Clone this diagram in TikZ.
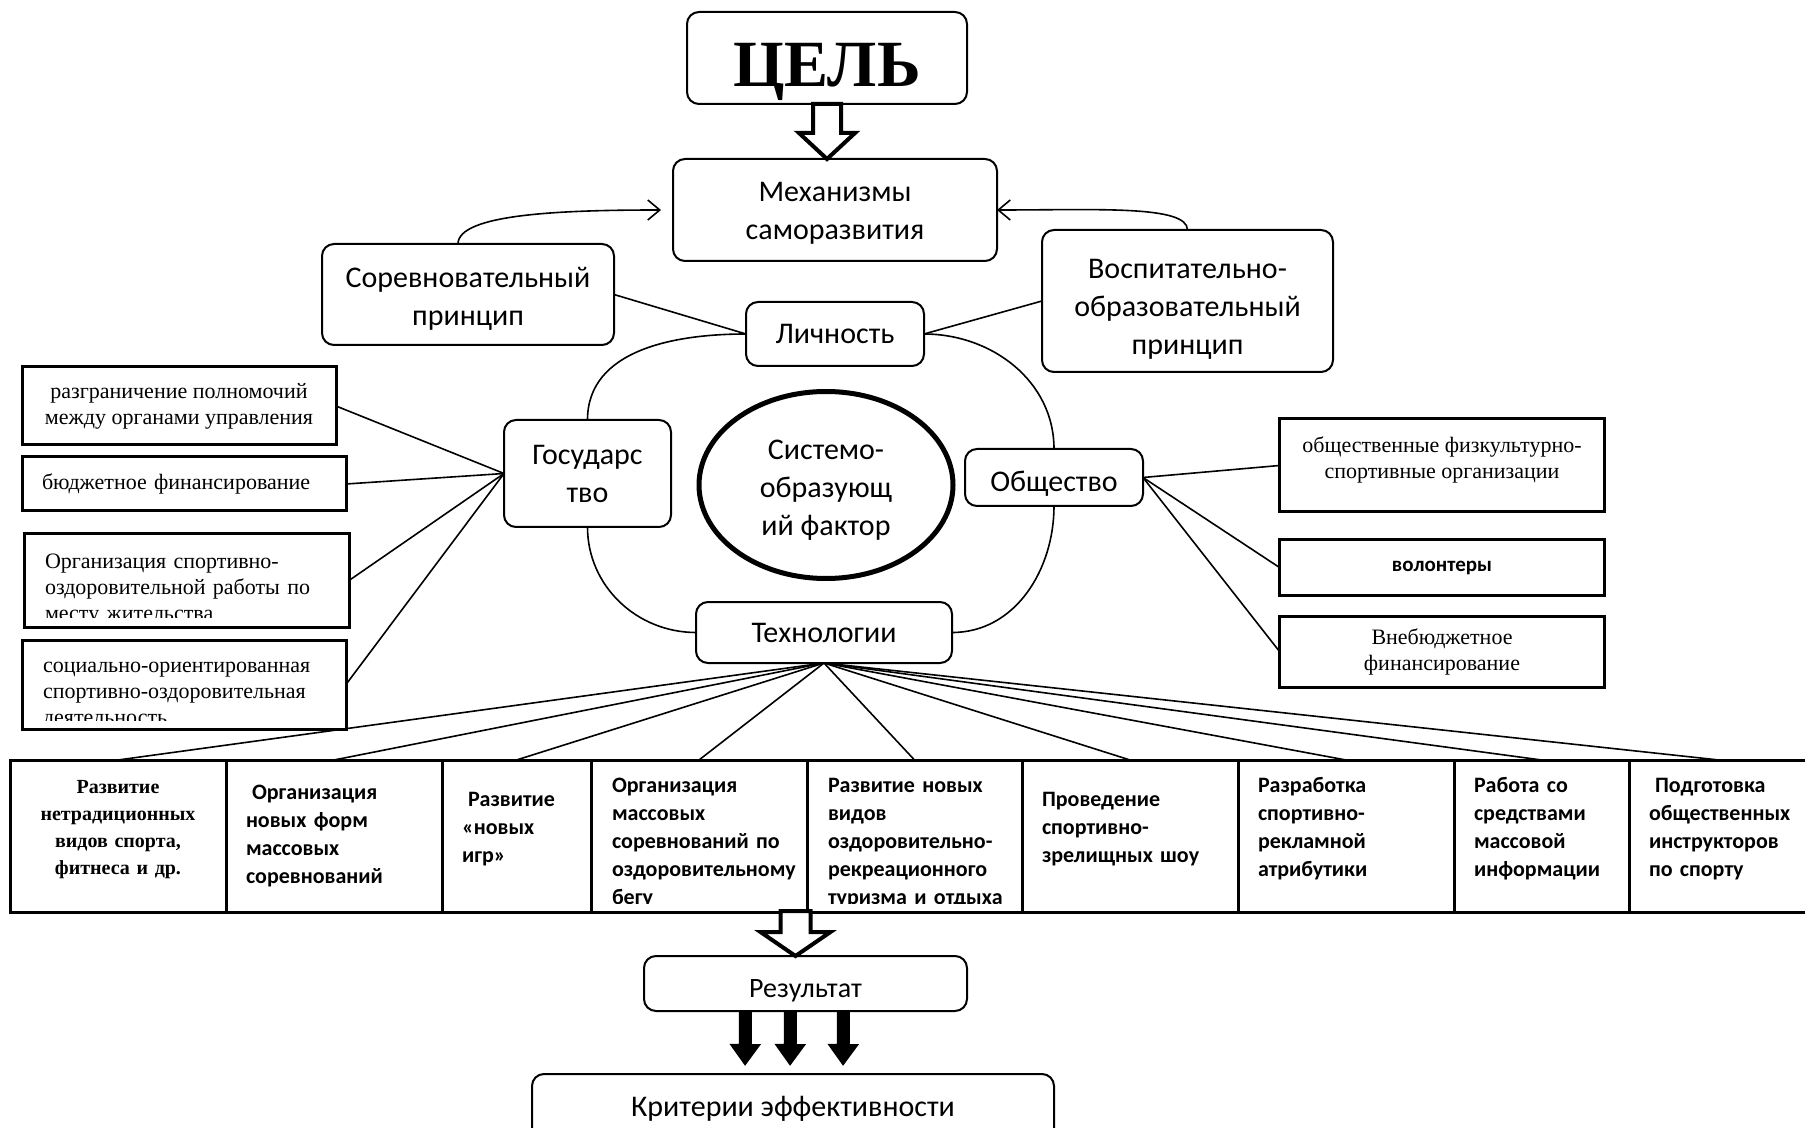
\documentclass[tikz,border=0pt]{standalone}
\usepackage{fontspec}
\setmainfont{Liberation Serif}
\newfontfamily\calibri{Carlito}
\usetikzlibrary{positioning,chains,arrows.meta,calc,shapes.geometric}

\newcommand\rowfont{\calibri\bfseries\fontsize{11}{14}\selectfont}
\newcommand\boxfont{\fontsize{11}{13}\selectfont}

\begin{document}
\begin{tikzpicture}[x=0.5pt, y=-0.5pt,
    rbox/.style={draw, rounded corners=6pt, line width=1pt, fill=white,
        font=\calibri\fontsize{15}{19}\selectfont, align=center,
        inner sep=0pt, outer sep=0pt},
    sbox/.style={draw, line width=1.5pt, font=\boxfont,
        inner sep=0pt, outer sep=0pt},
    cell/.style={draw, line width=1.5pt, font=\rowfont, align=left,
        text width=#1, text height=0pt, inner xsep=10pt, minimum height=76pt,
        outer sep=0pt, on chain},
    cuttext/.style n args={4}{path picture={
        \clip ([yshift=#3]path picture bounding box.south west)
            rectangle (path picture bounding box.north east);
        \node[anchor=base west, inner sep=0pt, minimum width=0pt, minimum height=0pt,
            align=left, text width=#2]
            at ([xshift=10.5pt, yshift=-#4]path picture bounding box.north west) {#1};}},
    link/.style={line width=0.8pt},
    back/.style={link, -{Straight Barb[length=6pt, width=10pt]}},
    hollow/.style={line width=2pt, fill=white, line join=miter},
    fat/.style={line width=6.5pt, -{Triangle[length=11pt, width=15pt]}, shorten >=4pt}
    ]
    \useasboundingbox (0,0) rectangle (1805,1128);

    \node[rbox, minimum width=140pt, minimum height=46pt, text height=29pt, text depth=0pt,
        font=\bfseries\fontsize{33}{36}\selectfont] (goal) at (827,58) {ЦЕЛЬ};
    \node[rbox, minimum width=162pt, minimum height=51pt, text height=32pt] (mech) at (835,210) {Механизмы\\саморазвития};
    \node[rbox, minimum width=146pt, minimum height=50.5pt, text height=33.5pt] (comp) at (468,294.5) {Соревновательный\\принцип};
    \node[rbox, minimum width=145.5pt, minimum height=71pt, text height=56pt] (educ) at (1187.5,301) {Воспитательно-\\образовательный\\принцип};
    \node[rbox, minimum width=89pt, minimum height=32pt] (pers) at (835,334) {Личность};
    \node[rbox, minimum width=83.5pt, minimum height=53.5pt] (state) at (587.5,473.5) {Государс\\тво};
    \node[draw, ellipse, line width=2.5pt, minimum width=127pt, minimum height=93.5pt, text height=53pt,
        inner sep=0pt, align=center, font=\calibri\fontsize{15}{19}\selectfont] (core) at (826,485) {Системо-\\образующ\\ий фактор};
    \node[rbox, minimum width=89pt, minimum height=28.5pt, text height=14pt, text depth=0pt] (soc) at (1054,477.5) {Общество};
    \node[rbox, minimum width=128pt, minimum height=30.5pt] (tech) at (824,632.5) {Технологии};

    \node[sbox, minimum width=157pt, minimum height=39pt, align=center] (org1) at (179,406)
        {разграничение полномочий\\между органами управления};
    \node[sbox, text width=142pt, inner xsep=10pt, minimum height=27pt, align=left] (org2) at (184,484)
        {бюджетное финансирование};
    \node[sbox, minimum width=162.5pt, minimum height=46.5pt,
        cuttext={\boxfont Организация спортивно-\\оздоровительной работы по\\месту жительства}{140pt}{5pt}{17pt}] (org3) at (186.5,580.5) {};
    \node[sbox, minimum width=162pt, minimum height=44.5pt,
        cuttext={\boxfont социально-ориентированная\\спортивно-оздоровительная\\деятельность}{140pt}{4.5pt}{16pt}] (org4) at (184,684.5) {};

    \node[sbox, minimum width=162.5pt, minimum height=46.5pt, text height=15.6pt, align=center] (club) at (1442,465.5)
        {общественные физкультурно-\\спортивные организации};
    \node[sbox, minimum width=162.5pt, minimum height=28pt,
        font=\calibri\bfseries\fontsize{10.5}{12}\selectfont] (volunteer) at (1442,567.5) {волонтеры};
    \node[sbox, minimum width=162.5pt, minimum height=35.5pt, align=center] (extra) at (1442,651.5)
        {Внебюджетное\\финансирование};

    \begin{scope}[start chain=row going right, node distance=0pt]
        \node[cell=88pt, align=center, font=\bfseries\fontsize{10}{13.4}\selectfont] (r1) at (118,836)
            {Развитие\\нетрадиционных\\видов спорта,\\фитнеса и др.};
        \node[cell=88pt, text height=7pt] (r2) {\hspace*{3pt}Организация\\новых форм\\массовых\\соревнований};
        \node[cell=54.5pt] (r3) {\hspace*{3pt}Развитие\\«новых\\игр»};
        \node[cell=88pt, cuttext={\rowfont Организация\\массовых\\соревнований по\\оздоровительному\\бегу}{88pt}{4.5pt}{16pt}] (r4) {};
        \node[cell=87.5pt, cuttext={\rowfont Развитие новых\\видов\\оздоровительно-\\рекреационного\\туризма и отдыха}{88pt}{4.5pt}{16pt}] (r5) {};
        \node[cell=88pt] (r6) {Проведение\\спортивно-\\зрелищных шоу};
        \node[cell=88pt] (r7) {Разработка\\спортивно-\\рекламной\\атрибутики};
        \node[cell=67.5pt] (r8) {Работа со\\средствами\\массовой\\информации};
        \node[cell=70pt] (r9) {\hspace*{3pt}Подготовка\\общественных\\инструкторов\\по спорту};
    \end{scope}

    \node[rbox, minimum width=161.5pt, minimum height=27.5pt, text height=14pt, text depth=0pt,
        font=\calibri\fontsize{14}{17}\selectfont] (res) at (805.5,983.5) {Результат};
    \node[rbox, minimum width=261pt, minimum height=35pt] (crit) at (793,1109) {Критерии эффективности};

    \draw[hollow] ($(goal.south)+(-14,0)$) -- ++(0,29) -- ++(-14,0) -- (goal.south |- mech.north)
        -- ++(28,-26) -- ++(-14,0) -- ++(0,-29) -- cycle;
    \draw[back] ([xshift=-5pt]comp.north) .. controls +(0,-30) and +(-100,0) .. ([xshift=-6pt]mech.west);
    \draw[back] (educ.north) .. controls +(0,-25) and +(100,0) .. (mech.east);
    \draw[link] (comp.east) -- (pers.west);
    \draw[link] (educ.west) -- (pers.east);

    \draw[link] (pers.west) to[out=180, in=90] (state.north)
        (state.south) to[out=-90, in=180] (tech.west)
        (tech.east) to[out=0, in=-90] (soc.south)
        (soc.north) to[out=90, in=0] (pers.east);

    \foreach \n in {org1,org2,org3,org4}
        \draw[link] (\n.east) -- (state.west);
    \foreach \n in {club,volunteer,extra}
        \draw[link] (soc.east) -- (\n.west);
    \foreach \n in {r1,r2,r3,r4,r5,r6,r7,r8,r9}
        \draw[link] (tech.south) -- (\n.north);

    \draw[hollow] ($(res.north)+(-25,-45)$) -- ++(0,21) -- ++(-20,0) -- ($(res.north)+(-10,0)$)
        -- ++(35,-24) -- ++(-20,0) -- ++(0,-21) -- cycle;
    \foreach \dx in {-60,-15,38}
        \draw[fat] ($(res.south)+(\dx,0)$) -- ($(crit.north)+(\dx+12,0)$);
\end{tikzpicture}
\end{document}
